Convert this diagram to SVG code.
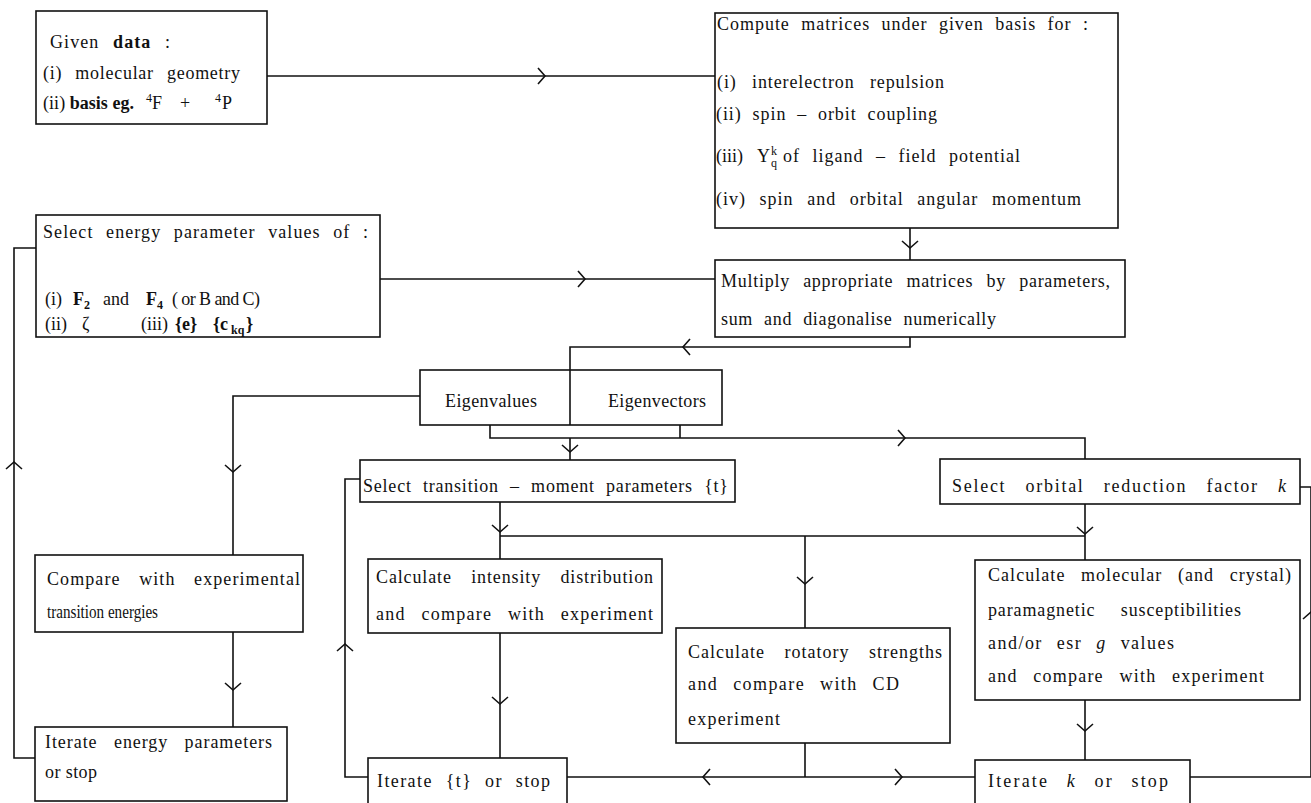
<svg xmlns="http://www.w3.org/2000/svg" xmlns:xlink="http://www.w3.org/1999/xlink" width="1311" height="803" viewBox="0 0 1311 803">
<style>
.box{fill:#fff;stroke:#111;stroke-width:1.6}
.t{font-family:"Liberation Serif","DejaVu Serif",serif;font-size:18px;fill:#111}
.s{font-size:12px}
.i{font-style:italic}
.b{font-weight:bold}
.c{fill:none;stroke:#111;stroke-width:1.6}
</style>
<defs>
<path id="ch" d="M-7,-8 L0,0 L-7,8" fill="none" stroke="#111" stroke-width="1.6"/>
</defs>
<rect width="1311" height="803" fill="#fff"/>
<g id="connectors">
<path class="c" d="M267,76 H715"/>
<use xlink:href="#ch" transform="translate(545,76)"/>
<path class="c" d="M910,228 V260"/>
<use xlink:href="#ch" transform="translate(910,248) rotate(90)"/>
<path class="c" d="M380,279 H715"/>
<use xlink:href="#ch" transform="translate(585,279)"/>
<path class="c" d="M910,337 V347 H570 V370"/>
<use xlink:href="#ch" transform="translate(683,347) rotate(180)"/>
<path class="c" d="M420,396 H233 V555"/>
<use xlink:href="#ch" transform="translate(233,472) rotate(90)"/>
<path class="c" d="M490,425 V438 H1085 V459 M680,425 V438 M570,438 V460"/>
<use xlink:href="#ch" transform="translate(905,438)"/>
<use xlink:href="#ch" transform="translate(570,452) rotate(90)"/>
<path class="c" d="M500,502 V559 M1085,504 V560 M500,536 H1085 M805,536 V628"/>
<use xlink:href="#ch" transform="translate(500,532) rotate(90)"/>
<use xlink:href="#ch" transform="translate(1085,534) rotate(90)"/>
<use xlink:href="#ch" transform="translate(805,584) rotate(90)"/>
<path class="c" d="M500,633 V758"/>
<use xlink:href="#ch" transform="translate(500,704) rotate(90)"/>
<path class="c" d="M233,632 V727"/>
<use xlink:href="#ch" transform="translate(233,690) rotate(90)"/>
<path class="c" d="M35,758 H14 V248 H36"/>
<use xlink:href="#ch" transform="translate(14,462) rotate(-90)"/>
<path class="c" d="M368,777 H345 V479 H360"/>
<use xlink:href="#ch" transform="translate(345,644) rotate(-90)"/>
<path class="c" d="M567,777 H975 M805,743 V777"/>
<use xlink:href="#ch" transform="translate(703,777) rotate(180)"/>
<use xlink:href="#ch" transform="translate(902,777)"/>
<path class="c" d="M1085,700 V760"/>
<use xlink:href="#ch" transform="translate(1085,731) rotate(90)"/>
<path class="c" d="M1190,777 H1311 V487 H1300"/>
<use xlink:href="#ch" transform="translate(1311,612) rotate(-90)"/>
</g>
<g id="given">
<rect class="box" x="36" y="11" width="231" height="113"/>
<text class="t" x="50" y="48" word-spacing="8" textLength="120" lengthAdjust="spacing">Given <tspan class="b">data</tspan> :</text>
<text class="t" x="43" y="79" word-spacing="8" textLength="197" lengthAdjust="spacing">(i) molecular geometry</text>
<text class="t" x="43" y="109" textLength="91" lengthAdjust="spacing">(ii) <tspan class="b">basis eg.</tspan></text>
<text class="t s" x="146" y="102">4</text><text class="t" x="152" y="109">F</text>
<text class="t" x="180" y="109">+</text>
<text class="t s" x="215" y="102">4</text><text class="t" x="222" y="109">P</text>
</g>
<g id="compute">
<rect class="box" x="715" y="13" width="403" height="215"/>
<text class="t" x="717" y="30" word-spacing="6" textLength="371" lengthAdjust="spacing">Compute matrices under given basis for :</text>
<text class="t" x="717" y="88" word-spacing="10" textLength="227" lengthAdjust="spacing">(i) interelectron repulsion</text>
<text class="t" x="716" y="120" word-spacing="5.5" textLength="221" lengthAdjust="spacing">(ii) spin – orbit coupling</text>
<text class="t" x="716" y="162">(iii)</text>
<text class="t" x="757" y="162">Y</text>
<text class="t s" x="771" y="155">k</text><text class="t s" x="771" y="167">q</text>
<text class="t" x="783" y="162" word-spacing="7" textLength="237" lengthAdjust="spacing">of ligand – field potential</text>
<text class="t" x="716" y="205" word-spacing="8" textLength="365" lengthAdjust="spacing">(iv) spin and orbital angular momentum</text>
</g>
<g id="select-energy">
<rect class="box" x="36" y="215" width="344" height="122"/>
<text class="t" x="43" y="238" word-spacing="7" textLength="325" lengthAdjust="spacing">Select energy parameter values of :</text>
<text class="t" x="45" y="305">(i)</text>
<text class="t b" x="73" y="305">F</text><text class="t s b" x="84" y="309">2</text>
<text class="t" x="103" y="305">and</text>
<text class="t b" x="146" y="305">F</text><text class="t s b" x="157" y="309">4</text>
<text class="t" x="172" y="305" textLength="88" lengthAdjust="spacing">( or B and C)</text>
<text class="t" x="45" y="330">(ii)</text>
<text class="t" x="82" y="330">ζ</text>
<text class="t" x="141" y="330">(iii)</text>
<text class="t b" x="175" y="330">{e}</text>
<text class="t b" x="213" y="330">{c</text><text class="t s b" x="231" y="334">kq</text><text class="t b" x="246" y="330">}</text>
</g>
<g id="multiply">
<rect class="box" x="715" y="260" width="410" height="77"/>
<text class="t" x="721" y="287" word-spacing="8" textLength="389" lengthAdjust="spacing">Multiply appropriate matrices by parameters,</text>
<text class="t" x="721" y="325" word-spacing="6" textLength="275" lengthAdjust="spacing">sum and diagonalise numerically</text>
</g>
<g id="eigen">
<rect class="box" x="420" y="370" width="302" height="55"/>
<path class="c" d="M570,370 V425"/>
<text class="t" x="445" y="407" textLength="92" lengthAdjust="spacing">Eigenvalues</text>
<text class="t" x="608" y="407" textLength="98" lengthAdjust="spacing">Eigenvectors</text>
</g>
<g id="select-transition">
<rect class="box" x="360" y="460" width="375" height="42"/>
<text class="t" x="363" y="492" word-spacing="6" textLength="365" lengthAdjust="spacing">Select transition – moment parameters {t}</text>
</g>
<g id="select-orbital">
<rect class="box" x="940" y="459" width="360" height="45"/>
<text class="t" x="952" y="492" word-spacing="13" textLength="334" lengthAdjust="spacing">Select orbital reduction factor <tspan class="i">k</tspan></text>
</g>
<g id="compare-energies">
<rect class="box" x="35" y="555" width="268" height="77"/>
<text class="t" x="47" y="585" word-spacing="13" textLength="253" lengthAdjust="spacing">Compare with experimental</text>
<text class="t" x="47" y="618" textLength="111" lengthAdjust="spacingAndGlyphs">transition energies</text>
</g>
<g id="intensity">
<rect class="box" x="368" y="559" width="294" height="74"/>
<text class="t" x="376" y="583" word-spacing="14" textLength="277" lengthAdjust="spacing">Calculate intensity distribution</text>
<text class="t" x="376" y="620" word-spacing="10" textLength="277" lengthAdjust="spacing">and compare with experiment</text>
</g>
<g id="rotatory">
<rect class="box" x="676" y="628" width="274" height="115"/>
<text class="t" x="688" y="658" word-spacing="14" textLength="254" lengthAdjust="spacing">Calculate rotatory strengths</text>
<text class="t" x="688" y="690" word-spacing="9" textLength="211" lengthAdjust="spacing">and compare with CD</text>
<text class="t" x="688" y="725" textLength="92" lengthAdjust="spacing">experiment</text>
</g>
<g id="molecular">
<rect class="box" x="975" y="560" width="325" height="140"/>
<text class="t" x="988" y="581" word-spacing="10" textLength="303" lengthAdjust="spacing">Calculate molecular (and crystal)</text>
<text class="t" x="988" y="616" word-spacing="20" textLength="253" lengthAdjust="spacing">paramagnetic susceptibilities</text>
<text class="t" x="988" y="649" word-spacing="8" textLength="186" lengthAdjust="spacing">and/or esr <tspan class="i">g</tspan> values</text>
<text class="t" x="988" y="682" word-spacing="10" textLength="276" lengthAdjust="spacing">and compare with experiment</text>
</g>
<g id="iterate-energy">
<rect class="box" x="35" y="727" width="252" height="74"/>
<text class="t" x="45" y="748" word-spacing="11" textLength="227" lengthAdjust="spacing">Iterate energy parameters</text>
<text class="t" x="45" y="778" textLength="52" lengthAdjust="spacing">or stop</text>
</g>
<g id="iterate-t">
<rect class="box" x="368" y="758" width="199" height="60"/>
<text class="t" x="377" y="787" word-spacing="7" textLength="173" lengthAdjust="spacing">Iterate {t} or stop</text>
</g>
<g id="iterate-k">
<rect class="box" x="975" y="760" width="215" height="60"/>
<text class="t" x="988" y="787" word-spacing="11" textLength="180" lengthAdjust="spacing">Iterate <tspan class="i">k</tspan> or stop</text>
</g>
</svg>
